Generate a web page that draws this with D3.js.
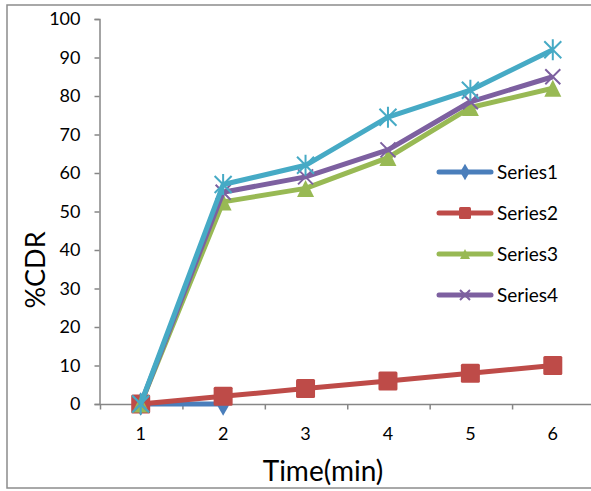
<!DOCTYPE html>
<html lang="en">
<head>
<meta charset="utf-8">
<script src="https://d3js.org/d3.v7.min.js"></script>
<style>
  body { margin: 0; background: #fff; }
  text { font-family: Lato, "Open Sans", sans-serif; fill: #000; }
</style>
</head>
<body>
<svg width="591" height="491"></svg>
<script>
// data
var times = [1, 2, 3, 4, 5, 6];
var yTicks = [0, 10, 20, 30, 40, 50, 60, 70, 80, 90, 100];
var series1 = [0, 0];
var series2 = [0, 2, 4, 6, 8, 10];
var series3 = [0, 52.5, 56, 64, 77, 82];
var series4 = [0, 55, 59, 66, 78.5, 85];
var series5 = [0, 57, 62, 74.5, 81.5, 92];

var svg = d3.select("svg");

// outer chart frame (right side runs off the picture)
svg.append("rect")
  .attr("x", 7).attr("y", 5)
  .attr("width", 600).attr("height", 483)
  .attr("fill", "none").attr("stroke", "#8c8c8c").attr("stroke-width", 1.5);

var x = d3.scaleBand().domain(times).range([99.5, 594]);
var y = d3.scaleLinear().domain([0, 100]).range([404, 19]);

var axisColor = "#868686";

// y axis
var yAxis = svg.append("g")
  .attr("transform", "translate(99.5,0)")
  .call(d3.axisLeft(y).tickValues(yTicks).tickSize(5).tickPadding(14));
yAxis.selectAll("path, line").attr("stroke", axisColor).attr("stroke-width", 1.5);
yAxis.selectAll("text").style("font-size", "18px").attr("font-family", null);

// x axis: ticks between categories
var xAxis = svg.append("g")
  .attr("transform", "translate(0,404.5)");
xAxis.append("line")
  .attr("x1", 99.5).attr("x2", 594)
  .attr("stroke", axisColor).attr("stroke-width", 1.5);
xAxis.selectAll(".tk").data(times).enter().append("line")
  .attr("x1", function (d) { return x(d) + 1; })
  .attr("x2", function (d) { return x(d) + 1; })
  .attr("y1", 0).attr("y2", 5)
  .attr("stroke", axisColor).attr("stroke-width", 1.5);
xAxis.selectAll(".lb").data(times).enter().append("text")
  .attr("x", function (d) { return x(d) + x.bandwidth() / 2; })
  .attr("y", 35)
  .attr("text-anchor", "middle")
  .style("font-size", "18px")
  .text(function (d) { return d; });

// axis titles
svg.append("text")
  .attr("x", 323).attr("y", 481)
  .attr("text-anchor", "middle")
  .style("font-size", "28px")
  .text("Time(min)");
svg.append("text")
  .attr("transform", "translate(45,270) rotate(-90)")
  .attr("text-anchor", "middle")
  .style("font-size", "27px")
  .text("%CDR");

function cx(i) { return x(times[i]) + x.bandwidth() / 2; }

var line = d3.line()
  .x(function (d, i) { return cx(i); })
  .y(function (d) { return y(d); });

function marker(g, type, color, px, py, s) {
  if (type === "diamond") {
    g.append("path")
      .attr("d", d3.symbol().type(d3.symbolDiamond).size(s * s * 0.8)())
      .attr("transform", "translate(" + px + "," + py + ")")
      .attr("fill", color);
  } else if (type === "square") {
    g.append("rect")
      .attr("x", px - s / 2).attr("y", py - s / 2)
      .attr("width", s).attr("height", s)
      .attr("rx", 1.5)
      .attr("fill", color);
  } else if (type === "triangle") {
    g.append("path")
      .attr("d", "M" + px + "," + (py - s / 2) + "L" + (px + s / 2) + "," + (py + s / 2) + "L" + (px - s / 2) + "," + (py + s / 2) + "Z")
      .attr("fill", color);
  } else if (type === "x") {
    var h = s / 2;
    g.append("path")
      .attr("d", "M" + (px - h) + "," + (py - h) + "L" + (px + h) + "," + (py + h) + "M" + (px - h) + "," + (py + h) + "L" + (px + h) + "," + (py - h))
      .attr("stroke", color).attr("stroke-width", 2);
  } else if (type === "star") {
    var h2 = s / 2;
    g.append("path")
      .attr("d", "M" + (px - h2) + "," + (py - h2) + "L" + (px + h2) + "," + (py + h2) + "M" + (px - h2) + "," + (py + h2) + "L" + (px + h2) + "," + (py - h2) + "M" + px + "," + (py - h2 - 2) + "L" + px + "," + (py + h2 + 2))
      .attr("stroke", color).attr("stroke-width", 2);
  }
}

var seriesList = [
  { name: "Series1", values: series1, color: "#4a7ebb", type: "diamond", size: 14 },
  { name: "Series2", values: series2, color: "#be4b48", type: "square", size: 19 },
  { name: "Series3", values: series3, color: "#98b954", type: "triangle", size: 17 },
  { name: "Series4", values: series4, color: "#7d60a0", type: "x", size: 15 },
  { name: "Series5", values: series5, color: "#46aac5", type: "star", size: 17 }
];

seriesList.forEach(function (s) {
  var g = svg.append("g");
  g.append("path")
    .datum(s.values)
    .attr("d", line)
    .attr("fill", "none")
    .attr("stroke", s.color)
    .attr("stroke-width", 5)
    .attr("stroke-linejoin", "round");
  s.values.forEach(function (v, i) {
    marker(g, s.type, s.color, cx(i), y(v), s.size);
  });
});

// legend (only the first four series are listed)
var legend = svg.append("g");
seriesList.slice(0, 4).forEach(function (s, i) {
  var ly = 172 + i * 41;
  legend.append("line")
    .attr("x1", 439).attr("x2", 491)
    .attr("y1", ly).attr("y2", ly)
    .attr("stroke", s.color).attr("stroke-width", 5)
    .attr("stroke-linecap", "round");
  marker(legend, s.type, s.color, 465, ly, s.type === "square" ? 12 : 10);
  legend.append("text")
    .attr("x", 497).attr("y", ly + 7)
    .style("font-size", "19px")
    .text(s.name);
});
</script>
</body>
</html>
